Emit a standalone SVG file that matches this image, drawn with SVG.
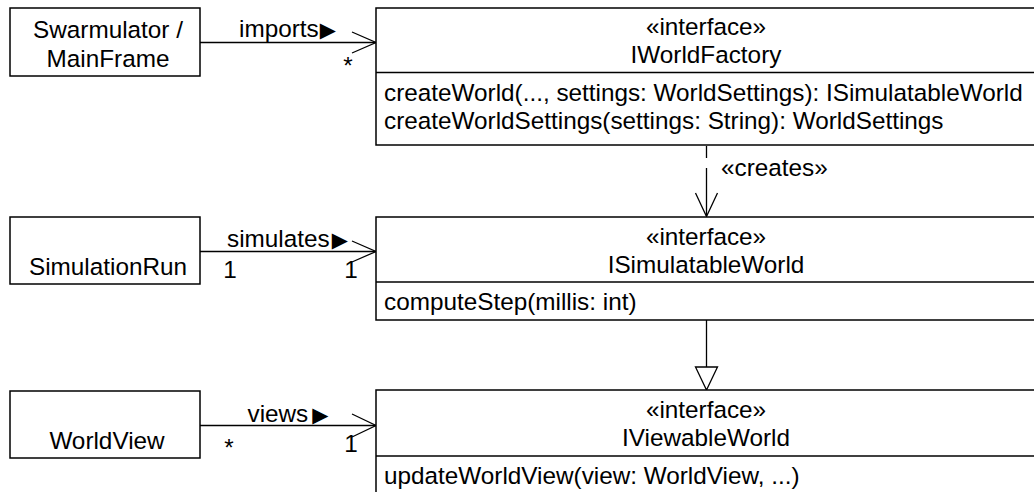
<svg xmlns="http://www.w3.org/2000/svg" width="1034" height="492" viewBox="0 0 1034 492">
<style>
text{font-family:"Liberation Sans",Arial,sans-serif;font-size:24.3px;fill:#000}
.c{text-anchor:middle}
.box{fill:#fff;stroke:#000;stroke-width:1.5}
.ln{fill:none;stroke:#000;stroke-width:1.3}
.dv{stroke:#000;stroke-width:1.5}
.tri{font-family:"DejaVu Sans",sans-serif;font-size:21px}
</style>
<rect width="1034" height="492" fill="#fff"/>
<g id="connectors">
  <line class="ln" x1="200" y1="42.5" x2="376" y2="42.5"/>
  <polyline class="ln" points="352,32 376,42.5 352,53"/>
  <text x="239" y="37">imports<tspan class="tri" dx="1">▶</tspan></text>
  <text class="c" x="348" y="74">*</text>

  <line class="ln" x1="200" y1="251.5" x2="376" y2="251.5"/>
  <polyline class="ln" points="352,241 376,251.5 352,262"/>
  <text x="227" y="246.5">simulates<tspan class="tri" dx="2">▶</tspan></text>
  <text class="c" x="230" y="278">1</text>
  <text class="c" x="351" y="278">1</text>

  <line class="ln" x1="200" y1="425.5" x2="376" y2="425.5"/>
  <polyline class="ln" points="352,414 376,425.5 352,437"/>
  <text x="247.5" y="421.5">views<tspan class="tri" dx="4">▶</tspan></text>
  <text class="c" x="229" y="456">*</text>
  <text class="c" x="351" y="452">1</text>

  <line class="ln" x1="706.5" y1="146" x2="706.5" y2="216" stroke-dasharray="12 10 60"/>
  <polyline class="ln" points="695.5,193 706.5,216.5 717.5,193"/>
  <text x="721" y="176">«creates»</text>

  <line class="ln" x1="706.5" y1="320" x2="706.5" y2="367"/>
  <polygon class="ln" style="fill:#fff" points="695.5,367 717.5,367 706.5,390"/>
</g>
<g id="swarmulator">
  <rect class="box" x="10" y="8" width="190" height="68"/>
  <text class="c" x="108" y="38">Swarmulator /</text>
  <text class="c" x="108" y="66.5">MainFrame</text>
</g>
<g id="simulationrun">
  <rect class="box" x="10" y="217" width="190" height="67"/>
  <text class="c" x="108" y="275">SimulationRun</text>
</g>
<g id="worldview">
  <rect class="box" x="10" y="391" width="190" height="67"/>
  <text class="c" x="107" y="449">WorldView</text>
</g>
<g id="iworldfactory">
  <rect class="box" x="376" y="8" width="662" height="137"/>
  <line class="dv" x1="376" y1="72.5" x2="1038" y2="72.5"/>
  <text class="c" x="706" y="35">«interface»</text>
  <text class="c" x="706" y="62.5">IWorldFactory</text>
  <text x="384" y="101">createWorld(..., settings: WorldSettings): ISimulatableWorld</text>
  <text x="384" y="129">createWorldSettings(settings: String): WorldSettings</text>
</g>
<g id="isimulatableworld">
  <rect class="box" x="376" y="217" width="662" height="103"/>
  <line class="dv" x1="376" y1="282" x2="1038" y2="282"/>
  <text class="c" x="706" y="245">«interface»</text>
  <text class="c" x="706" y="273">ISimulatableWorld</text>
  <text x="384" y="310">computeStep(millis: int)</text>
</g>
<g id="iviewableworld">
  <rect class="box" x="376" y="390" width="662" height="110"/>
  <line class="dv" x1="376" y1="456" x2="1038" y2="456"/>
  <text class="c" x="706" y="418">«interface»</text>
  <text class="c" x="706" y="446">IViewableWorld</text>
  <text x="384" y="484">updateWorldView(view: WorldView, ...)</text>
</g>
</svg>
